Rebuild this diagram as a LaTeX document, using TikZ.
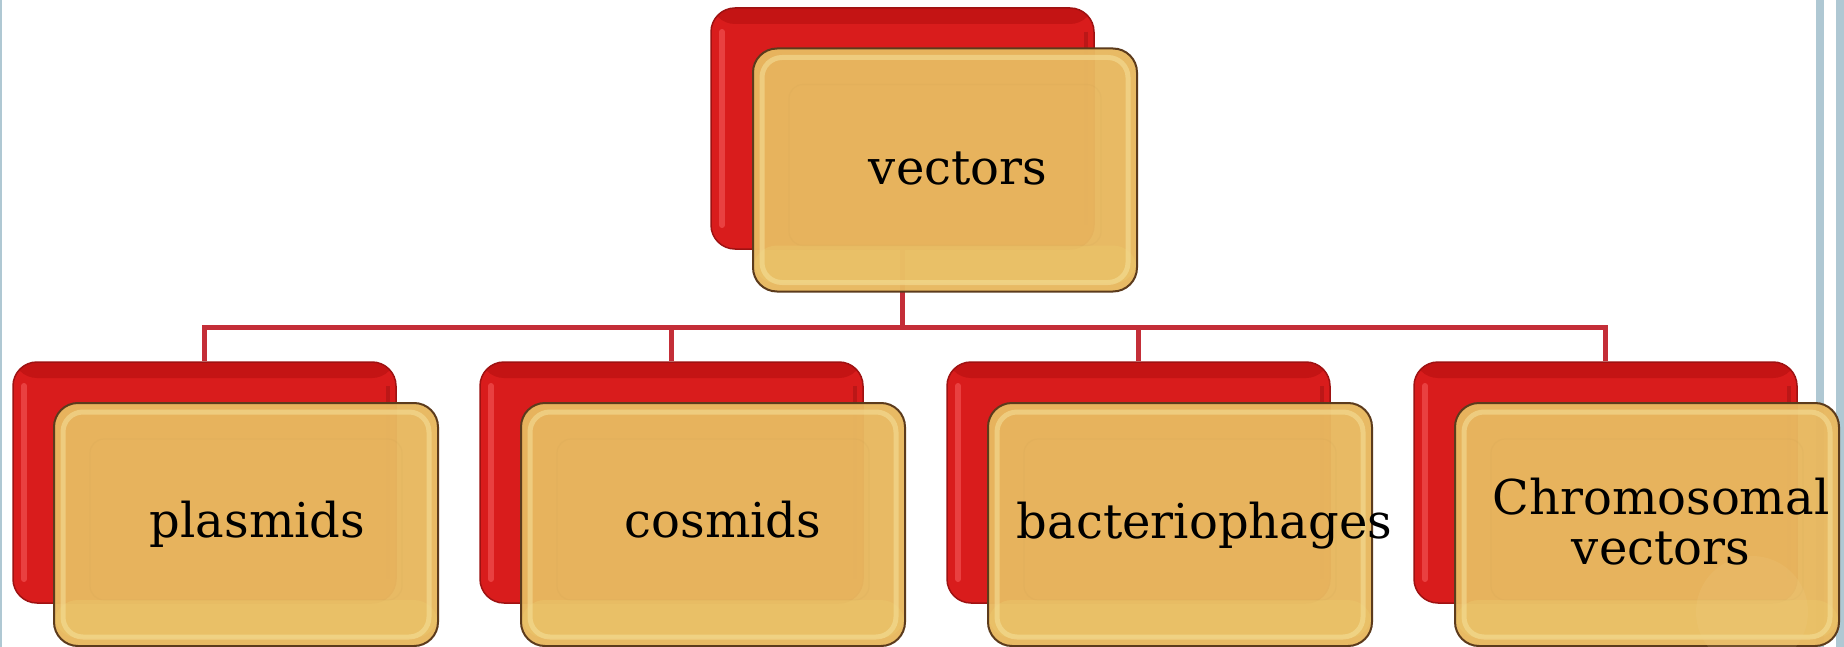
\documentclass[tikz,border=0pt]{standalone}
\usepackage{fontspec}
\setmainfont{DejaVu Serif}
\definecolor{redC}{HTML}{D91C1C}
\definecolor{redTop}{HTML}{C41414}
\definecolor{redEdge}{HTML}{9E1212}
\definecolor{redHl}{HTML}{EE4A4A}
\definecolor{tanC}{HTML}{E8B860}
\definecolor{tanBand}{HTML}{EAC56A}
\definecolor{tanHl}{HTML}{F4DE96}
\definecolor{frameC}{HTML}{5C3B1C}
\definecolor{connC}{HTML}{C42E38}
\definecolor{barC}{HTML}{AFC8D3}
\definecolor{circC}{HTML}{F0D48E}
\begin{document}
\begin{tikzpicture}[x=1pt,y=-1pt,
  backbox/.style={rounded corners=24pt, minimum width=383pt, minimum height=241pt,
    inner sep=0pt, draw=redEdge, line width=1.5pt, fill=redC,
    path picture={
      \fill[redTop] (path picture bounding box.north west) rectangle ([yshift=-16pt]path picture bounding box.north east);
      \draw[line width=6pt, redHl, opacity=.8, line cap=round] ([shift={(11pt,-24pt)}]path picture bounding box.north west) -- ([shift={(11pt,24pt)}]path picture bounding box.south west);
      \draw[line width=4pt, redEdge!50!redC] ([shift={(-8pt,-24pt)}]path picture bounding box.north east) -- ([shift={(-8pt,24pt)}]path picture bounding box.south east);
    }},
  frontbox/.style={rounded corners=24pt, minimum width=384pt, minimum height=243pt,
    inner sep=0pt, draw=frameC, line width=2pt, fill=tanC, fill opacity=0.97, draw opacity=1,
    path picture={
      \fill[tanBand, opacity=.55] ([yshift=8pt]path picture bounding box.south west) rectangle ([yshift=46pt]path picture bounding box.south east);
      \draw[rounded corners=14pt, line width=1.2pt, tanC!85!black, opacity=.1] ([shift={(36pt,46pt)}]path picture bounding box.south west) rectangle ([shift={(-36pt,-36pt)}]path picture bounding box.north east);
      \draw[rounded corners=20pt, line width=5pt, tanHl, opacity=.6] ([shift={(9pt,9pt)}]path picture bounding box.south west) rectangle ([shift={(-9pt,-9pt)}]path picture bounding box.north east);
    }},
  conn/.style={connC, line width=5pt},
  lbl/.style={font=\fontsize{48}{50}\selectfont, text=black, inner sep=0pt}
]
\useasboundingbox (0,0) rectangle (1844,647);
\fill[white] (0,0) rectangle (1844,647);
% side bars
\fill[barC] (0,0) rectangle (2,647);
\fill[barC] (1816,0) rectangle (1824,647);
\fill[barC] (1836,0) rectangle (1844,647);

% back boxes
\node[backbox] (topb) at (902.5,128.5) {};
\node[backbox] (b0) at (204.5,482.5) {};
\node[backbox] (b1) at (671.5,482.5) {};
\node[backbox] (b2) at (1138.5,482.5) {};
\node[backbox] (b3) at (1605.5,482.5) {};

% connectors
\coordinate (bus) at (902.5,327);
\draw[conn] (topb.south) -- (bus);
\draw[conn] (bus) -| (b0.north);
\draw[conn] (bus) -| (b1.north);
\draw[conn] (bus) -| (b2.north);
\draw[conn] (bus) -| (b3.north);

% front boxes
\node[frontbox] (topf) at (945,170) {};
\node[frontbox] (f0) at (246,524.5) {};
\node[frontbox] (f1) at (713,524.5) {};
\node[frontbox] (f2) at (1180,524.5) {};
\node[frontbox] (f3) at (1647,524.5) {};

% faint circle
\fill[circC, opacity=.15] (1752,612) circle (56);

% labels
\node[lbl, anchor=base] (t0) at (958,185) {vectors};
\node[lbl, anchor=base] (t1) at (257.5,537) {plasmids};
\node[lbl, anchor=base] (t2) at (723,537) {cosmids};
\node[lbl, anchor=base] (t3) at (1204.5,538) {bacteriophages};
\node[lbl, align=center, anchor=center] (t4) at (1661,522) {Chromosomal\\vectors};
\end{tikzpicture}
\end{document}
